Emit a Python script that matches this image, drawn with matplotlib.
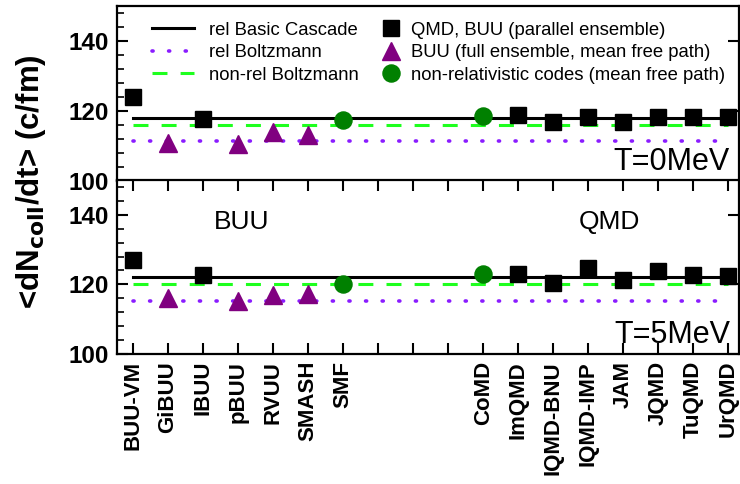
import matplotlib
matplotlib.use("Agg")
import matplotlib.pyplot as plt
from matplotlib.lines import Line2D
from matplotlib.ticker import MultipleLocator

plt.rcParams['font.family'] = ['Liberation Sans', 'DejaVu Sans']

codes = ["BUU-VM", "GiBUU", "IBUU", "pBUU", "RVUU", "SMASH", "SMF",
         "CoMD", "ImQMD", "IQMD-BNU", "IQMD-IMP", "JAM", "JQMD", "TuQMD", "UrQMD"]
positions = [0, 1, 2, 3, 4, 5, 6, 10, 11, 12, 13, 14, 15, 16, 17]
kinds = ["sq", "tri", "sq", "tri", "tri", "tri", "circ",
         "circ", "sq", "sq", "sq", "sq", "sq", "sq", "sq"]

rate_T0 = [124.0, 111.0, 117.6, 110.5, 113.9, 113.2, 117.3,
           118.6, 119.0, 116.9, 118.3, 116.9, 118.4, 118.3, 118.4]
rate_T5 = [127.1, 116.0, 122.6, 115.2, 117.0, 117.3, 120.0,
           123.0, 123.0, 120.5, 124.8, 121.4, 123.8, 122.6, 122.4]

rel_cascade = [118.1, 122.2]
rel_boltz = [111.3, 115.2]
nonrel_boltz = [115.9, 120.0]
temps = ["T=0MeV", "T=5MeV"]

styles = {
    "sq": dict(marker="s", color="black", ms=11.5),
    "tri": dict(marker="^", color="#800080", ms=13),
    "circ": dict(marker="o", color="#008000", ms=12.3),
}

fig = plt.figure(figsize=(7.4, 4.84), dpi=100)
ax_top = fig.add_axes([0.158, 0.626, 0.841, 0.3615])
ax_bot = fig.add_axes([0.158, 0.2686, 0.841, 0.3595])

black_c = "black"
purple_line = "#8a1cff"
green_line = "#1eff1e"
dot_style = (0, (0.3, 4.3))
dash_style = (0, (4.9, 4.3))

for i, (ax, vals) in enumerate([(ax_top, rate_T0), (ax_bot, rate_T5)]):
    ax.plot([positions[0], positions[-1]], [rel_boltz[i]] * 2, color=purple_line,
            lw=2.6, linestyle=dot_style, dash_capstyle="round", zorder=2)
    ax.plot([positions[0], positions[-1]], [nonrel_boltz[i]] * 2, color=green_line,
            lw=2.2, linestyle=dash_style, zorder=2)
    ax.plot([positions[0], positions[-1]], [rel_cascade[i]] * 2, color=black_c,
            lw=2.2, zorder=2)
    for p, v, k in zip(positions, vals, kinds):
        st = styles[k]
        ax.plot([p], [v], linestyle="none", marker=st["marker"], ms=st["ms"],
                color=st["color"], mec=st["color"], zorder=3)
    ax.set_xlim(-0.46, 17.31)
    ax.set_ylim(100, 150)
    ax.set_yticks([100, 120, 140])
    ax.yaxis.set_minor_locator(MultipleLocator(4))
    ax.tick_params(axis="y", which="major", direction="in", length=8, width=1.5,
                   right=True, labelsize=17.5, pad=6)
    ax.tick_params(axis="y", which="minor", direction="in", length=5, width=1.2,
                   right=False)
    for lab in ax.get_yticklabels():
        lab.set_fontweight("bold")
    for s in ax.spines.values():
        s.set_linewidth(1.6)
    ax.text(0.985, 0.065, temps[i], transform=ax.transAxes, ha="right", va="baseline",
            fontsize=22)

ax_top.set_xticks([])
ax_bot.set_xticks(positions)
ax_bot.set_xticks(range(0, 18), minor=True)
ax_bot.set_xticklabels(codes, rotation=90, fontsize=16, fontweight="bold")
ax_bot.tick_params(axis="x", which="both", direction="in", length=8, width=1.5,
                   top=True, pad=5)

ax_bot.text(3.1, 138.0, "BUU", ha="center", va="center", fontsize=19)
ax_bot.text(13.6, 138.0, "QMD", ha="center", va="center", fontsize=19)

fig.text(0.042, 0.624, "<dN$_{\\mathbf{coll}}$/dt> (c/fm)", rotation=90,
         ha="center", va="center", fontsize=22.5, fontweight="bold")

h1 = [Line2D([], [], color=black_c, lw=2.2),
      Line2D([], [], color=purple_line, lw=2.6, linestyle=dot_style,
             dash_capstyle="round"),
      Line2D([], [], color=green_line, lw=2.2, linestyle=dash_style)]
l1 = ["rel Basic Cascade", "rel Boltzmann", "non-rel Boltzmann"]
h2 = [Line2D([], [], linestyle="none", marker="s", color="black", ms=11.5),
      Line2D([], [], linestyle="none", marker="^", color="#800080", ms=13),
      Line2D([], [], linestyle="none", marker="o", color="#008000", ms=12.3)]
l2 = ["QMD, BUU (parallel ensemble)", "BUU (full ensemble, mean free path)",
      "non-relativistic codes (mean free path)"]

leg1 = ax_top.legend(h1, l1, loc="upper left", bbox_to_anchor=(0.035, 0.985),
                     frameon=False, fontsize=13.3, handlelength=2.3,
                     handletextpad=0.8, labelspacing=0.3, borderaxespad=0.3)
ax_top.add_artist(leg1)
ax_top.legend(h2, l2, loc="upper left", bbox_to_anchor=(0.402, 0.985),
              frameon=False, fontsize=13.3, handlelength=1.2,
              handletextpad=0.5, labelspacing=0.3, borderaxespad=0.3)

fig.savefig("out.png", dpi=100)
